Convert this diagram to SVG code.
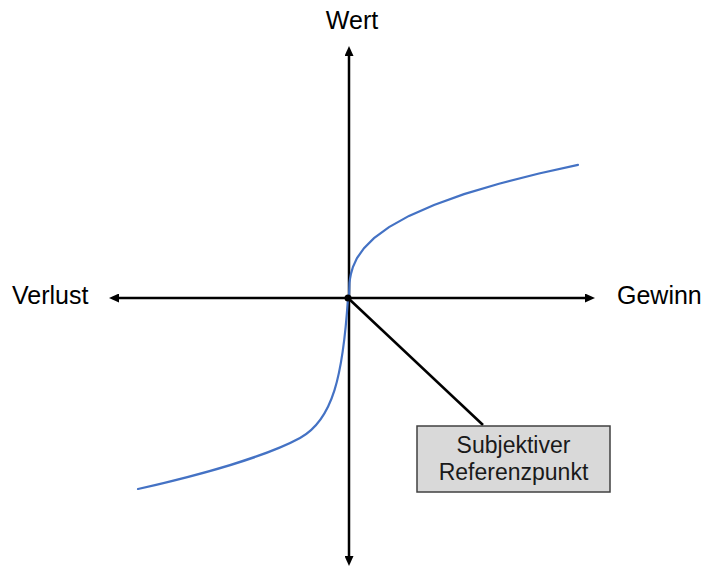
<svg xmlns="http://www.w3.org/2000/svg" width="705" height="568" viewBox="0 0 705 568">
<style>
.axis{stroke:#000;stroke-width:2.5;fill:none}
.lbl{font-family:"Liberation Sans",Arial,sans-serif;font-size:25px;fill:#000}
.box{fill:#d9d9d9;stroke:#404040;stroke-width:1.5}
.btxt{font-family:"Liberation Sans",Arial,sans-serif;font-size:23px;fill:#1a1a1a;text-anchor:middle}
.curve{stroke:#4472c4;stroke-width:2.2;fill:none;stroke-linecap:round}
</style>
<defs>
<marker id="arr" markerUnits="userSpaceOnUse" markerWidth="10" markerHeight="9" refX="2" refY="4.5" orient="auto-start-reverse" viewBox="0 0 10 9">
<path d="M0,0 L10,4.5 L0,9 z" fill="#000"/>
</marker>
</defs>
<rect width="705" height="568" fill="#fff"/>
<g id="connectors">
<line class="axis" x1="349" y1="558" x2="349" y2="54" marker-start="url(#arr)" marker-end="url(#arr)"/>
<line class="axis" x1="117" y1="298" x2="587" y2="298" marker-start="url(#arr)" marker-end="url(#arr)"/>
<line class="axis" x1="348" y1="298" x2="483" y2="425"/>
</g>
<g id="value-curve">
<path class="curve" d="M349,297 L349.5,282.9 L350,278.8 L351,273.6 L353,266.8 L357,258.1 L364,248.1 L374,238.1 L389,227.1 L409,215.9 L434,204.9 L464,194.1 L499,183.7 L539,173.5 L578,164.9"/>
<path class="curve" d="M348,298 C343,375 333,420 300,438 C267,456 200,475 138,489"/>
</g>
<g id="origin"><circle cx="348" cy="298" r="3.5" fill="#000"/></g>
<g id="label-wert"><text class="lbl" x="352" y="29" text-anchor="middle">Wert</text></g>
<g id="label-verlust"><text class="lbl" x="12" y="304">Verlust</text></g>
<g id="label-gewinn"><text class="lbl" x="617" y="304">Gewinn</text></g>
<g id="referenzpunkt">
<rect class="box" x="417" y="426" width="193" height="66"/>
<text class="btxt" x="513.5" y="453">Subjektiver</text>
<text class="btxt" x="513.5" y="480">Referenzpunkt</text>
</g>
</svg>
